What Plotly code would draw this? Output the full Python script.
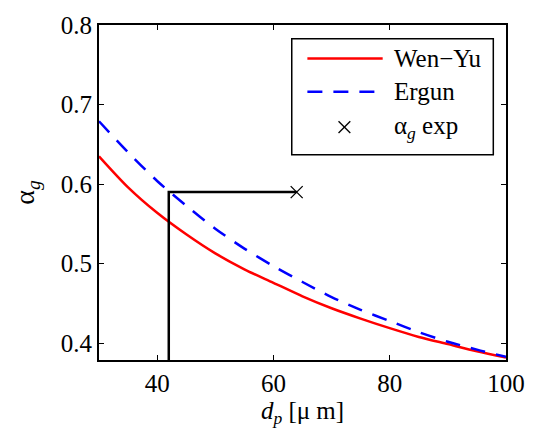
import plotly.graph_objects as go

# Particle diameter d_p [um] and gas volume fraction from the two drag models
dp = [30, 35, 40, 45, 50, 55, 60, 65, 70, 75, 80, 85, 90, 95, 100]
alpha_wen_yu = [0.635, 0.596, 0.564, 0.537, 0.513, 0.493, 0.476, 0.459,
                0.444, 0.431, 0.419, 0.408, 0.399, 0.390, 0.382]
alpha_ergun = [0.679, 0.640, 0.604, 0.573, 0.544, 0.519, 0.497, 0.477,
               0.458, 0.442, 0.428, 0.414, 0.402, 0.392, 0.383]

# Measured gas fraction and the diameter at which the Ergun curve reaches it
alpha_exp = 0.59
dp_exp = 64
dp_match = 42

x_range = [30, 100]
y_range = [0.379, 0.8]
x_ticks = [40, 60, 80, 100]
y_ticks = [0.4, 0.5, 0.6, 0.7, 0.8]

FONT = "Liberation Serif, Times New Roman, DejaVu Serif, serif"
FS = 25

fig = go.Figure()
fig.add_trace(go.Scatter(x=dp, y=alpha_wen_yu, mode="lines",
                         line=dict(color="#ff0000", width=2.5, shape="spline", smoothing=0.8),
                         name="Wen\u2212Yu", showlegend=False))
fig.add_trace(go.Scatter(x=dp, y=alpha_ergun, mode="lines",
                         line=dict(color="#0000ff", width=2.5, dash="15px,11px",
                                   shape="spline", smoothing=0.8),
                         name="Ergun", showlegend=False))
# guide lines: from the x axis up to the measured value, then across to the marker
fig.add_trace(go.Scatter(x=[dp_match, dp_match, dp_exp],
                         y=[y_range[0], alpha_exp, alpha_exp], mode="lines",
                         line=dict(color="black", width=2.5), showlegend=False))
fig.add_trace(go.Scatter(x=[dp_exp], y=[alpha_exp], mode="markers",
                         marker=dict(symbol="x-thin", size=12,
                                     line=dict(color="black", width=1.3)),
                         showlegend=False))

# hand-drawn legend box in paper coordinates
lx0, lx1, ly0, ly1 = 0.4736, 0.9688, 0.613, 0.959
sx0, sx1 = 0.512, 0.697
rows = [0.900, 0.801, 0.695]
tx = 0.719
shapes = [
    dict(type="rect", xref="paper", yref="paper", x0=lx0, x1=lx1, y0=ly0, y1=ly1,
         line=dict(color="black", width=1.5), fillcolor="white", layer="above"),
    dict(type="line", xref="paper", yref="paper", x0=sx0, x1=sx1, y0=rows[0], y1=rows[0],
         line=dict(color="#ff0000", width=2.5), layer="above"),
    dict(type="line", xref="paper", yref="paper", x0=sx0, x1=sx1, y0=rows[1], y1=rows[1],
         line=dict(color="#0000ff", width=2.5, dash="15px,11px"), layer="above"),
]
# small cross for the experimental entry
cx, cy = 0.603, rows[2]
hx, hy = 6 / 416, 6 / 341
for a, b in [((cx - hx, cy - hy), (cx + hx, cy + hy)), ((cx - hx, cy + hy), (cx + hx, cy - hy))]:
    shapes.append(dict(type="line", xref="paper", yref="paper",
                       x0=a[0], y0=a[1], x1=b[0], y1=b[1],
                       line=dict(color="black", width=1.3), layer="above"))

annotations = [
    dict(xref="paper", yref="paper", x=tx, y=rows[0], text="Wen\u2212Yu",
         showarrow=False, xanchor="left", yanchor="middle",
         font=dict(family=FONT, size=FS, color="black")),
    dict(xref="paper", yref="paper", x=tx, y=rows[1], text="Ergun",
         showarrow=False, xanchor="left", yanchor="middle",
         font=dict(family=FONT, size=FS, color="black")),
    dict(xref="paper", yref="paper", x=tx, y=rows[2],
         text="\u03b1<sub><i>g</i></sub> exp",
         showarrow=False, xanchor="left", yanchor="middle",
         font=dict(family=FONT, size=FS, color="black")),
]

fig.update_layout(
    width=537, height=437,
    margin=dict(l=99, r=22, t=19, b=77),
    paper_bgcolor="white", plot_bgcolor="white",
    font=dict(family=FONT, size=FS, color="black"),
    shapes=shapes, annotations=annotations,
    xaxis=dict(range=x_range, tickvals=x_ticks, ticks="inside", ticklen=5,
               tickwidth=1, tickcolor="black", showline=True, linecolor="black",
               linewidth=2, mirror="allticks", showgrid=False, zeroline=False,
               tickfont=dict(family=FONT, size=FS),
               title=dict(text="<i>d</i><sub><i>p</i></sub> [\u03bc m]",
                          font=dict(family=FONT, size=FS), standoff=2)),
    yaxis=dict(range=y_range, tickvals=y_ticks, ticktext=["0.4", "0.5", "0.6", "0.7", "0.8"],
               ticks="inside", ticklen=5, tickwidth=1, tickcolor="black",
               showline=True, linecolor="black", linewidth=2, mirror="allticks",
               showgrid=False, zeroline=False,
               tickfont=dict(family=FONT, size=FS),
               title=dict(text="\u03b1<sub><i>g</i></sub>",
                          font=dict(family=FONT, size=28), standoff=18)),
)

fig.write_html("out.html")
